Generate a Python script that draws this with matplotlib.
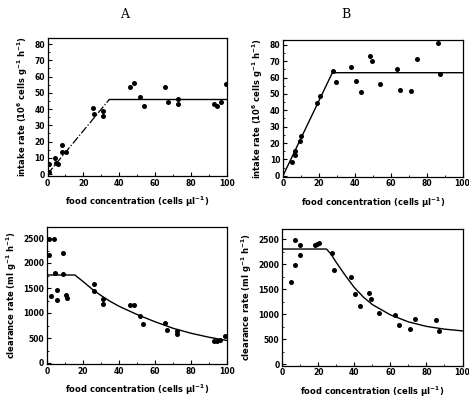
import matplotlib
matplotlib.use("Agg")
import matplotlib.pyplot as plt
from matplotlib.ticker import MultipleLocator

# ---- data ----
# panel A, intake rate
a_int_x = [0.6, 1.1, 3.9, 5.0, 5.6, 8.3, 8.3, 10.4, 25.6, 26.1, 30.7, 30.7,
           45.9, 48.3, 51.7, 53.5, 65.6, 66.9, 72.8, 72.8, 92.6, 94.3, 96.5, 99.3]
a_int_y = [1.2, 6.2, 9.8, 7.0, 6.0, 17.8, 13.7, 13.7, 40.4, 36.7, 39.0, 35.7,
           53.7, 56.2, 47.6, 41.8, 53.3, 44.5, 46.2, 42.9, 43.1, 42.0, 44.5, 55.2]
a_fit_rise_x = [0, 34.5]
a_fit_rise_y = [0, 46]
a_fit_flat_x = [34.5, 100]
a_fit_flat_y = [46, 46]

# panel B, intake rate
b_int_x = [4.8, 6.7, 6.7, 9.4, 10.0, 18.7, 20.6, 28.0, 29.3, 38.1, 40.6, 43.7,
           48.7, 49.8, 54.3, 63.5, 65.0, 71.5, 74.6, 86.1, 87.6]
b_int_y = [8.4, 15.3, 12.8, 21.4, 24.4, 44.4, 48.9, 64.3, 57.2, 66.4, 58.0, 50.9,
           73.5, 69.9, 56.2, 65.2, 52.5, 52.1, 71.5, 81.4, 62.3]
b_fit_x = [0, 27.5, 100]
b_fit_y = [0, 63, 63]

# panel A, clearance rate
a_clr_x = [1.3, 3.9, 1.3, 8.7, 4.4, 8.7, 2.0, 5.7, 5.7, 10.5, 10.9, 26.0, 26.0,
           31.1, 31.1, 45.9, 48.6, 51.4, 53.6, 65.6, 66.5, 72.2, 72.2, 92.8,
           94.6, 96.1, 98.7]
a_clr_y = [2480, 2480, 2170, 2200, 1807, 1773, 1340, 1453, 1253, 1353, 1300,
           1587, 1440, 1287, 1187, 1167, 1167, 933, 787, 807, 667, 633, 580,
           440, 440, 453, 540]
a_curve_x = [0, 15.5, 20, 25, 30, 35, 40, 50, 60, 70, 80, 90, 100]
a_curve_y = [1760, 1760, 1630, 1480, 1350, 1235, 1135, 970, 825, 695, 595, 515, 450]

# panel B, clearance rate
b_clr_x = [5.0, 6.8, 6.8, 9.9, 9.9, 18.2, 19.5, 20.6, 27.8, 28.7, 38.0, 40.3,
           43.1, 48.2, 49.5, 53.8, 62.8, 64.6, 71.1, 73.9, 85.5, 86.9]
b_clr_y = [1640, 1973, 2473, 2387, 2173, 2373, 2407, 2427, 2227, 1887, 1740,
           1407, 1160, 1420, 1307, 1027, 973, 787, 707, 907, 887, 653]
b_curve_x = [0, 24.5, 27, 30, 35, 40, 45, 50, 60, 70, 80, 90, 100]
b_curve_y = [2300, 2300, 2200, 2030, 1770, 1530, 1340, 1190, 985, 845, 755, 700, 665]

W, H = 469, 398
fig = plt.figure(figsize=(W / 100, H / 100), dpi=100)


def box(l, r, t, b):
    return [l / W, 1 - b / H, (r - l) / W, (b - t) / H]


tick_font = dict(fontsize=5.5, fontweight="bold")
lab_font = dict(fontsize=6, fontweight="bold")
xlab = r"food concentration (cells $\mathbf{\mu}$l$^{\mathbf{-1}}$)"
intake_lab = r"intake rate (10$^{\mathbf{6}}$ cells g$^{\mathbf{-1}}$ h$^{\mathbf{-1}}$)"
clear_lab = r"clearance rate (ml g$^{\mathbf{-1}}$ h$^{\mathbf{-1}}$)"


def style(ax, ylim, ymaj, ymin, ylabel):
    ax.set_xlim(0, 100)
    ax.set_ylim(*ylim)
    ax.xaxis.set_major_locator(MultipleLocator(20))
    ax.xaxis.set_minor_locator(MultipleLocator(10))
    ax.yaxis.set_major_locator(MultipleLocator(ymaj))
    ax.yaxis.set_minor_locator(MultipleLocator(ymin))
    ax.tick_params(which="both", direction="in", top=False, right=False)
    ax.tick_params(which="major", length=3, width=0.8, pad=2)
    ax.tick_params(which="minor", length=1.5, width=0.6)
    for lbl in ax.get_xticklabels() + ax.get_yticklabels():
        lbl.set_fontsize(tick_font["fontsize"])
        lbl.set_fontweight("bold")
    for s in ax.spines.values():
        s.set_linewidth(0.9)
    ax.set_xlabel(xlab, labelpad=5, **lab_font)
    ax.set_ylabel(ylabel, labelpad=3, **lab_font)


mk = dict(s=13, color="black", zorder=3, linewidths=0)

ax1 = fig.add_axes(box(47.5, 227, 38, 176))
ax1.scatter(a_int_x, a_int_y, **mk)
ax1.plot(a_fit_rise_x, a_fit_rise_y, color="black", lw=0.9, ls="-.")
ax1.plot(a_fit_flat_x, a_fit_flat_y, color="black", lw=1.0)
style(ax1, (-1.2, 83.7), 10, 5, intake_lab)

ax2 = fig.add_axes(box(283, 462.5, 40, 176.7))
ax2.scatter(b_int_x, b_int_y, **mk)
ax2.plot(b_fit_x, b_fit_y, color="black", lw=1.0)
style(ax2, (-0.6, 83), 10, 5, intake_lab)

ax3 = fig.add_axes(box(47, 227, 227, 364))
ax3.scatter(a_clr_x, a_clr_y, **mk)
ax3.plot(a_curve_x, a_curve_y, color="black", lw=1.0)
style(ax3, (-20, 2720), 500, 250, clear_lab)

ax4 = fig.add_axes(box(282.3, 462.5, 229, 365.7))
ax4.scatter(b_clr_x, b_clr_y, **mk)
ax4.plot(b_curve_x, b_curve_y, color="black", lw=1.0)
style(ax4, (-30, 2700), 500, 250, clear_lab)

fig.text(125 / W, 1 - 15 / H, "A", ha="center", va="center",
         fontsize=9, family="DejaVu Serif")
fig.text(346 / W, 1 - 15 / H, "B", ha="center", va="center",
         fontsize=9, family="DejaVu Serif")

fig.savefig("out.png", dpi=100)
